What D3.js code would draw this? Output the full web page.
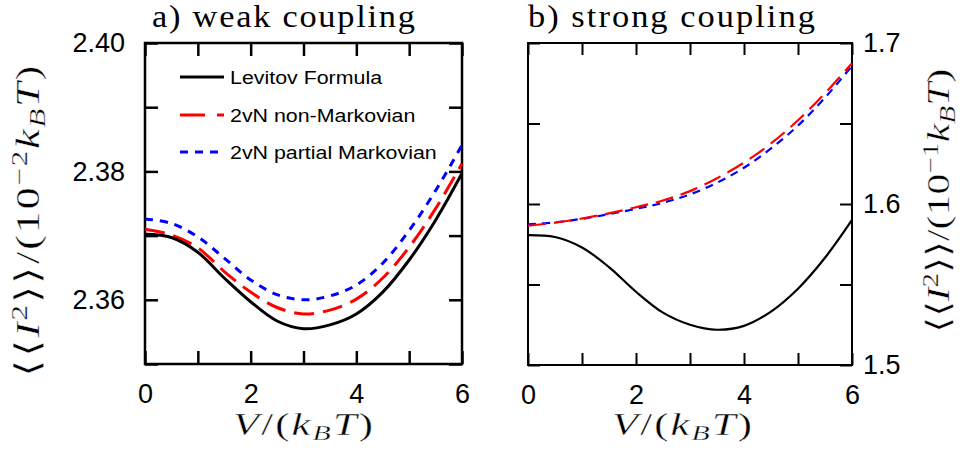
<!DOCTYPE html>
<html>
<head>
<meta charset="utf-8">
<script src="https://cdn.jsdelivr.net/npm/d3@7/dist/d3.min.js"></script>
<style>
  html, body { margin: 0; padding: 0; background: #fff; }
  svg { display: block; }
</style>
</head>
<body>
<svg id="chart" width="960" height="453"></svg>
<script>
// ---------- data ----------
const voltage = [0, 0.5, 1, 1.5, 2, 2.5, 3, 3.5, 4, 4.5, 5, 5.5, 6];

// a) weak coupling, units 10^-2 kBT
const weakLevitov  = [2.3702, 2.3697, 2.3674, 2.3634, 2.3597, 2.3567, 2.3555, 2.3561, 2.3578, 2.3612, 2.3662, 2.3724, 2.3797];
const weakNonMark  = [2.3710, 2.3701, 2.3681, 2.3644, 2.3612, 2.3588, 2.3578, 2.3584, 2.3601, 2.3634, 2.3682, 2.3742, 2.3812];
const weakPartMark = [2.3726, 2.3719, 2.3698, 2.3665, 2.3631, 2.3608, 2.3600, 2.3606, 2.3623, 2.3657, 2.3708, 2.3770, 2.3841];

// b) strong coupling, units 10^-1 kBT
const strongLevitov  = [1.5807, 1.5795, 1.5730, 1.5608, 1.5455, 1.5325, 1.5250, 1.5219, 1.5243, 1.5332, 1.5474, 1.5666, 1.5901];
const strongNonMark  = [1.5865, 1.5884, 1.5910, 1.5942, 1.5980, 1.6022, 1.6080, 1.6160, 1.6257, 1.6376, 1.6520, 1.6688, 1.6874];
const strongPartMark = [1.5874, 1.5886, 1.5908, 1.5937, 1.5970, 1.6008, 1.6060, 1.6132, 1.6225, 1.6345, 1.6487, 1.6660, 1.6858];

const seriesNames = ["Levitov Formula", "2vN non-Markovian", "2vN partial Markovian"];

const xTicks = [0, 1, 2, 3, 4, 5, 6];
const xTickLabels = [0, 2, 4, 6];
const weakYTicks = [2.35, 2.36, 2.37, 2.38, 2.39, 2.40];
const weakYTickLabels = [2.36, 2.38, 2.40];
const strongYTicks = [1.50, 1.55, 1.60, 1.65, 1.70];
const strongYTickLabels = [1.5, 1.6, 1.7];

// ---------- styles ----------
const sans = "'Liberation Sans', Arial, Helvetica, sans-serif";
const serif = "'Liberation Serif', 'Times New Roman', serif";
const colors = ["#000000", "#ff0000", "#0000ff"];

const svg = d3.select("#chart");

function near(list, v) { return list.some(t => Math.abs(t - v) < 1e-6); }

// widen a text (drawn at 0,0) to a target width: a horizontal scale plus letter-spacing
function stretch(sel, target, pre, centered, maxScale) {
  const w0 = sel.node().getBBox().width;
  const n = sel.text().length;
  const s0 = Math.min(target / w0, maxScale);
  const ls = Math.max(0, (target / s0 - w0) / n);
  sel.attr("letter-spacing", ls);
  const w1 = sel.node().getBBox().width - ls;
  const s = target / w1;
  const shift = centered ? ` translate(${-w1 / 2},0)` : "";
  sel.attr("transform", `${pre} scale(${s},1)${shift}`);
}

// slightly thin the glyphs (the reference uses a light math font)
function thin(sel, w) {
  sel.attr("stroke", "#fff").attr("stroke-width", w).attr("paint-order", "fill");
}

function mathLabel(sel, parts) {
  parts.forEach(p => {
    const t = sel.append("tspan").text(p.t);
    if (p.i) t.attr("font-style", "italic");
    if (p.s) t.attr("font-size", "0.7em");
    if (p.dy) t.attr("dy", p.dy);
  });
}

function panel(opt) {
  const g = svg.append("g");
  const x = d3.scaleLinear().domain([0, 6]).range([opt.x0, opt.x1]);
  const y = d3.scaleLinear().domain(opt.yDomain).range([opt.y1, opt.y0]);

  const tl = opt.tick;
  const fmt = d3.format(opt.fmt);

  const ax = g.append("g").attr("transform", `translate(0,${opt.y1})`)
    .call(d3.axisBottom(x).tickValues(xTicks).tickSize(-tl).tickPadding(20)
      .tickFormat(d => near(xTickLabels, d) ? d3.format("d")(d) : ""));
  const axt = g.append("g").attr("transform", `translate(0,${opt.y0})`)
    .call(d3.axisTop(x).tickValues(xTicks).tickSize(-tl).tickFormat(""));
  const ayl = g.append("g").attr("transform", `translate(${opt.x0},0)`)
    .call(d3.axisLeft(y).tickValues(opt.yTicks).tickSize(-tl).tickPadding(20)
      .tickFormat(d => (opt.labelSide === "left" && near(opt.yLabels, d)) ? fmt(d) : ""));
  const ayr = g.append("g").attr("transform", `translate(${opt.x1},0)`)
    .call(d3.axisRight(y).tickValues(opt.yTicks).tickSize(-tl).tickPadding(11)
      .tickFormat(d => (opt.labelSide === "right" && near(opt.yLabels, d)) ? fmt(d) : ""));

  [ax, axt, ayl, ayr].forEach(a => {
    a.select(".domain").remove();
    a.selectAll(".tick line").attr("stroke", "#000").attr("stroke-width", opt.frameW);
    a.selectAll(".tick text").attr("font-family", sans).attr("font-size", 27).attr("fill", "#000");
  });

  g.append("rect")
    .attr("x", opt.x0).attr("y", opt.y0)
    .attr("width", opt.x1 - opt.x0).attr("height", opt.y1 - opt.y0)
    .attr("fill", "none").attr("stroke", "#000").attr("stroke-width", opt.frameW);

  const line = d3.line().x((d, i) => x(voltage[i])).y(d => y(d)).curve(d3.curveCatmullRom.alpha(0.5));
  const dashes = [null, opt.dashRed, opt.dashBlue];
  [2, 1, 0].forEach(k => {
    g.append("path").datum(opt.series[k])
      .attr("d", line)
      .attr("fill", "none")
      .attr("stroke", colors[k])
      .attr("stroke-width", opt.lineW)
      .attr("stroke-dasharray", dashes[k]);
  });

  // title
  const t = g.append("text")
    .attr("font-family", serif).attr("font-size", 30.5).attr("fill", "#000")
    .text(opt.title);
  stretch(t, opt.titleW, `translate(${opt.titleX},27)`, false, 1.12);

  // x label
  const xl = g.append("text")
    .attr("font-family", serif).attr("font-size", 31).attr("fill", "#000");
  mathLabel(xl, [
    { t: "V", i: true }, { t: "/(" }, { t: "k", i: true },
    { t: "B", i: true, s: true, dy: "0.25em" }, { t: "T", i: true, dy: "-0.175em" }, { t: ")" }
  ]);
  stretch(xl, 140, `translate(${opt.xLabelX},435)`, true, 1.35);
  thin(xl, 0.35);

  // y label
  const yl = g.append("text")
    .attr("font-family", serif).attr("font-size", opt.yLabelFs).attr("fill", "#000");
  mathLabel(yl, [
    { t: "\u27E8\u27E8" }, { t: "I", i: true }, { t: "2", s: true, dy: "-0.5em" },
    { t: "\u27E9\u27E9/(10", dy: "0.35em" }, { t: "\u2212" + opt.exp, s: true, dy: "-0.5em" },
    { t: "k", i: true, dy: "0.35em" }, { t: "B", i: true, s: true, dy: "0.25em" },
    { t: "T", i: true, dy: "-0.175em" }, { t: ")" }
  ]);
  stretch(yl, opt.yLabelLen, `translate(${opt.yLabelX},${opt.yLabelY}) rotate(-90)`, true, 1.3);
  thin(yl, 0.35);

  return { g, x, y };
}

panel({
  x0: 145, x1: 462, y0: 43, y1: 364,
  yDomain: [2.35, 2.40], yTicks: weakYTicks, yLabels: weakYTickLabels, fmt: ".2f",
  labelSide: "left", tick: 13, frameW: 2.5, lineW: 3,
  dashRed: "20,9", dashBlue: "8,7",
  series: [weakLevitov, weakNonMark, weakPartMark],
  title: "a) weak coupling", titleX: 152, titleW: 263,
  xLabelX: 303, yLabelX: 39, yLabelY: 223, yLabelLen: 307, yLabelFs: 34, exp: "2"
});

panel({
  x0: 528, x1: 852, y0: 43, y1: 365,
  yDomain: [1.5, 1.7], yTicks: strongYTicks, yLabels: strongYTickLabels, fmt: ".1f",
  labelSide: "right", tick: 12, frameW: 2, lineW: 2.2,
  dashRed: "18,8", dashBlue: "8,6",
  series: [strongLevitov, strongNonMark, strongPartMark],
  title: "b) strong coupling", titleX: 528, titleW: 287,
  xLabelX: 682, yLabelX: 949, yLabelY: 201, yLabelLen: 264, yLabelFs: 32, exp: "1"
});

// legend (panel a)
const legendRows = [77, 115, 152];
const legendDash = [null, "25,12", "8,7"];
const leg = svg.append("g");
let legScale = null;
seriesNames.forEach((name, i) => {
  leg.append("line")
    .attr("x1", 180).attr("x2", 224)
    .attr("y1", legendRows[i]).attr("y2", legendRows[i])
    .attr("stroke", colors[i]).attr("stroke-width", 3)
    .attr("stroke-dasharray", legendDash[i]);
  const t = leg.append("text")
    .attr("dy", "0.36em")
    .attr("font-family", sans).attr("font-size", 18.5).attr("fill", "#000")
    .text(name);
  const w = t.node().getBBox().width;
  if (legScale === null) legScale = 153 / w;
  t.attr("transform", `translate(230,${legendRows[i]}) scale(${legScale},1)`);
});
</script>
</body>
</html>
